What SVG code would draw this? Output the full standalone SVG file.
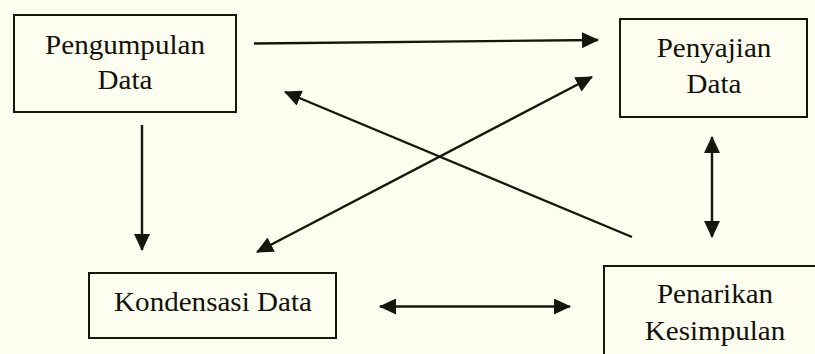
<svg xmlns="http://www.w3.org/2000/svg" width="815" height="354" viewBox="0 0 815 354">
  <style>
    .box { fill: none; stroke: #16160c; stroke-width: 2; }
    .lbl { font-family: 'Liberation Serif', 'Times New Roman', serif; font-size: 27px; fill: #111108; text-anchor: middle; }
    .con { stroke: #16160c; stroke-width: 2.4; fill: none; }
  </style>
  <defs>
    <marker id="ah" markerUnits="userSpaceOnUse" markerWidth="17" markerHeight="16" refX="16" refY="8" orient="auto-start-reverse" viewBox="0 0 17 16">
      <path d="M0,0 L17,8 L0,16 z" fill="#16160c"/>
    </marker>
  </defs>
  <rect x="0" y="0" width="815" height="354" fill="#fdfdf0"/>

  <g id="pengumpulan">
    <rect class="box" x="14" y="15" width="222" height="97"/>
    <g transform="translate(125,0) scale(1.077,1)">
      <text class="lbl" x="0" y="54">Pengumpulan</text>
      <text class="lbl" x="0" y="89">Data</text>
    </g>
  </g>
  <g id="penyajian">
    <rect class="box" x="620" y="19" width="187" height="98"/>
    <g transform="translate(714,0) scale(1.077,1)">
      <text class="lbl" x="0" y="57">Penyajian</text>
      <text class="lbl" x="0" y="93">Data</text>
    </g>
  </g>
  <g id="kondensasi">
    <rect class="box" x="89" y="273" width="247" height="65"/>
    <g transform="translate(213,0) scale(1.077,1)">
      <text class="lbl" x="0" y="311">Kondensasi Data</text>
    </g>
  </g>
  <g id="penarikan">
    <rect class="box" x="604" y="266" width="240" height="110"/>
    <g transform="translate(715,0) scale(1.077,1)">
      <text class="lbl" x="0" y="303">Penarikan</text>
      <text class="lbl" x="0" y="340">Kesimpulan</text>
    </g>
  </g>

  <g id="connectors">
    <line class="con" x1="254" y1="43.5" x2="598" y2="40" marker-end="url(#ah)"/>
    <line class="con" x1="142" y1="125" x2="142" y2="250" marker-end="url(#ah)"/>
    <line class="con" x1="712" y1="137" x2="712" y2="237" marker-start="url(#ah)" marker-end="url(#ah)"/>
    <line class="con" x1="380" y1="306.5" x2="570" y2="306.5" marker-start="url(#ah)" marker-end="url(#ah)"/>
    <line class="con" x1="257" y1="252" x2="592" y2="77" marker-start="url(#ah)" marker-end="url(#ah)"/>
    <line class="con" x1="632" y1="237" x2="285" y2="92" marker-end="url(#ah)"/>
  </g>
</svg>
